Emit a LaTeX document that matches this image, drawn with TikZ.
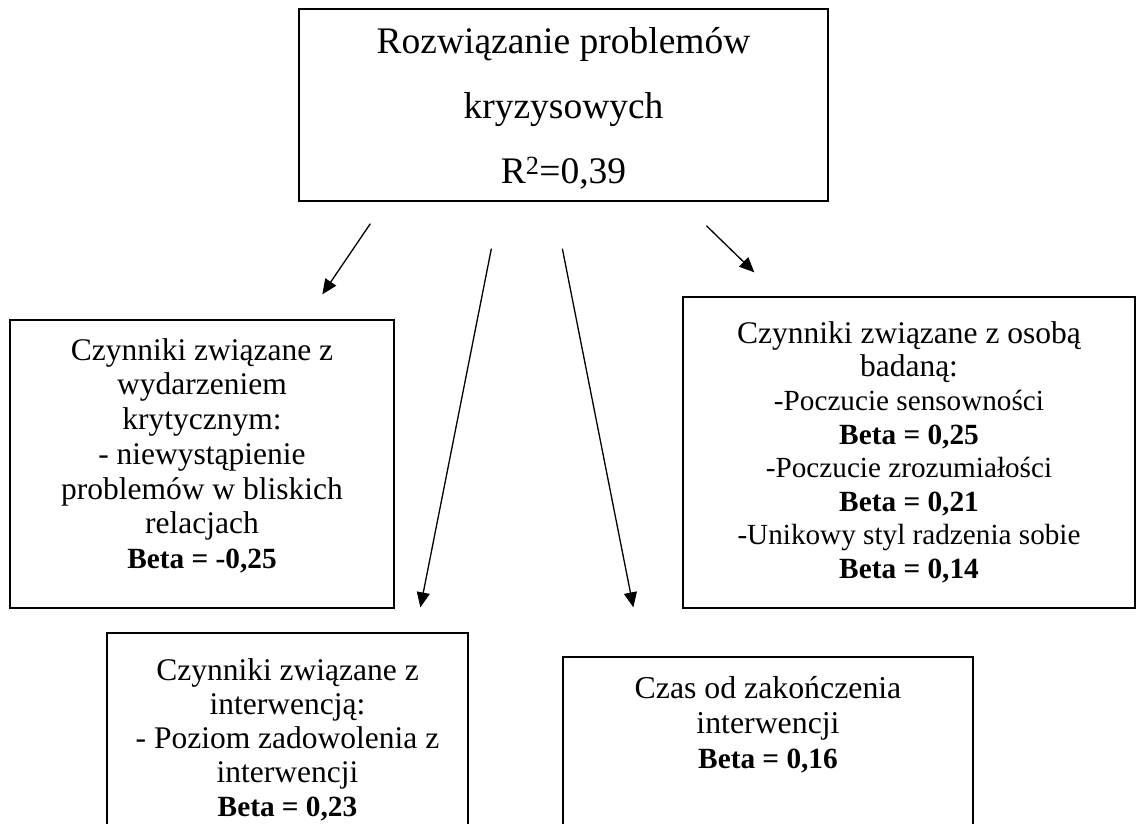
\documentclass[tikz,border=0pt]{standalone}
\usepackage{fontspec}
\setmainfont{Liberation Serif}
\usetikzlibrary{arrows.meta}
\newcommand\betab[1]{{\fontsize{29.3pt}{\baselineskip}\selectfont\bfseries #1}}
\newcommand\smallitem[1]{{\fontsize{29.2pt}{\baselineskip}\selectfont #1}}
\begin{document}
\begin{tikzpicture}[x=1pt,y=-1pt,
  box/.style={draw,line width=1.3pt,rectangle,inner sep=0pt},
  lbl/.style={align=center,inner sep=0pt,anchor=north},
  arr/.style={line width=1.3pt,-{Triangle[length=15pt,width=13pt]}}]
\useasboundingbox (0,0) rectangle (1137,823);
\clip (0,0) rectangle (1137,823);
\fill[white] (0,0) rectangle (1137,823);
% boxes
\node[box,minimum width=529pt,minimum height=192pt] (top) at (563.5,105) {};
\node[box,minimum width=384pt,minimum height=288pt] (left) at (202,464) {};
\node[box,minimum width=452pt,minimum height=311pt] (right) at (909,452.5) {};
\node[box,minimum width=361pt,minimum height=267pt] (inter) at (287.5,766.5) {};
\node[box,minimum width=410pt,minimum height=243pt] (czas) at (768,778.5) {};
% texts
\node[lbl,font=\fontsize{37.5}{65}\selectfont] (ttop) at (563.5,23)
  {\rule{0pt}{30pt}Rozwiązanie problemów\\kryzysowych\\R\textsuperscript{2}=0,39};
\node[lbl,font=\fontsize{31.5}{34.7}\selectfont] (tleft) at (202,336)
  {\rule{0pt}{24pt}Czynniki związane z\\wydarzeniem\\krytycznym:\\- niewystąpienie\\problemów w bliskich\\relacjach\\\betab{Beta = -0,25}};
\node[lbl,font=\fontsize{31.5}{33.6}\selectfont] (tright) at (909,319)
  {\rule{0pt}{24pt}Czynniki związane z osobą\\badaną:\\\smallitem{-Poczucie sensowności}\\\betab{Beta = 0,25}\\\smallitem{-Poczucie zrozumiałości}\\\betab{Beta = 0,21}\\\smallitem{-Unikowy styl radzenia sobie}\\\betab{Beta = 0,14}};
\node[lbl,font=\fontsize{31.5}{34}\selectfont] (tinter) at (287.5,656)
  {\rule{0pt}{24pt}Czynniki związane z\\interwencją:\\- Poziom zadowolenia z\\interwencji\\\betab{Beta = 0,23}};
\node[lbl,font=\fontsize{31.8}{35}\selectfont] (tczas) at (768,674)
  {\rule{0pt}{24pt}Czas od zakończenia\\interwencji\\\betab{Beta = 0,16}};
% arrow end points relative to the boxes
\coordinate (a1s) at ([xshift=72pt,yshift=-22pt]top.south west);
\coordinate (a1e) at ([xshift=313pt,yshift=25pt]left.north west);
\coordinate (a2s) at ([xshift=193pt,yshift=-47pt]top.south west);
\coordinate (a2e) at ([xshift=314pt,yshift=25pt]inter.north west);
\coordinate (a3s) at ([xshift=264pt,yshift=-47pt]top.south west);
\coordinate (a3e) at ([xshift=71pt,yshift=49pt]czas.north west);
\coordinate (a4s) at ([xshift=408pt,yshift=-24pt]top.south west);
\coordinate (a4e) at ([xshift=72pt,yshift=24pt]right.north west);
\draw[arr] (a1s) -- (a1e);
\draw[arr] (a2s) -- (a2e);
\draw[arr] (a3s) -- (a3e);
\draw[arr] (a4s) -- (a4e);
\end{tikzpicture}
\end{document}
